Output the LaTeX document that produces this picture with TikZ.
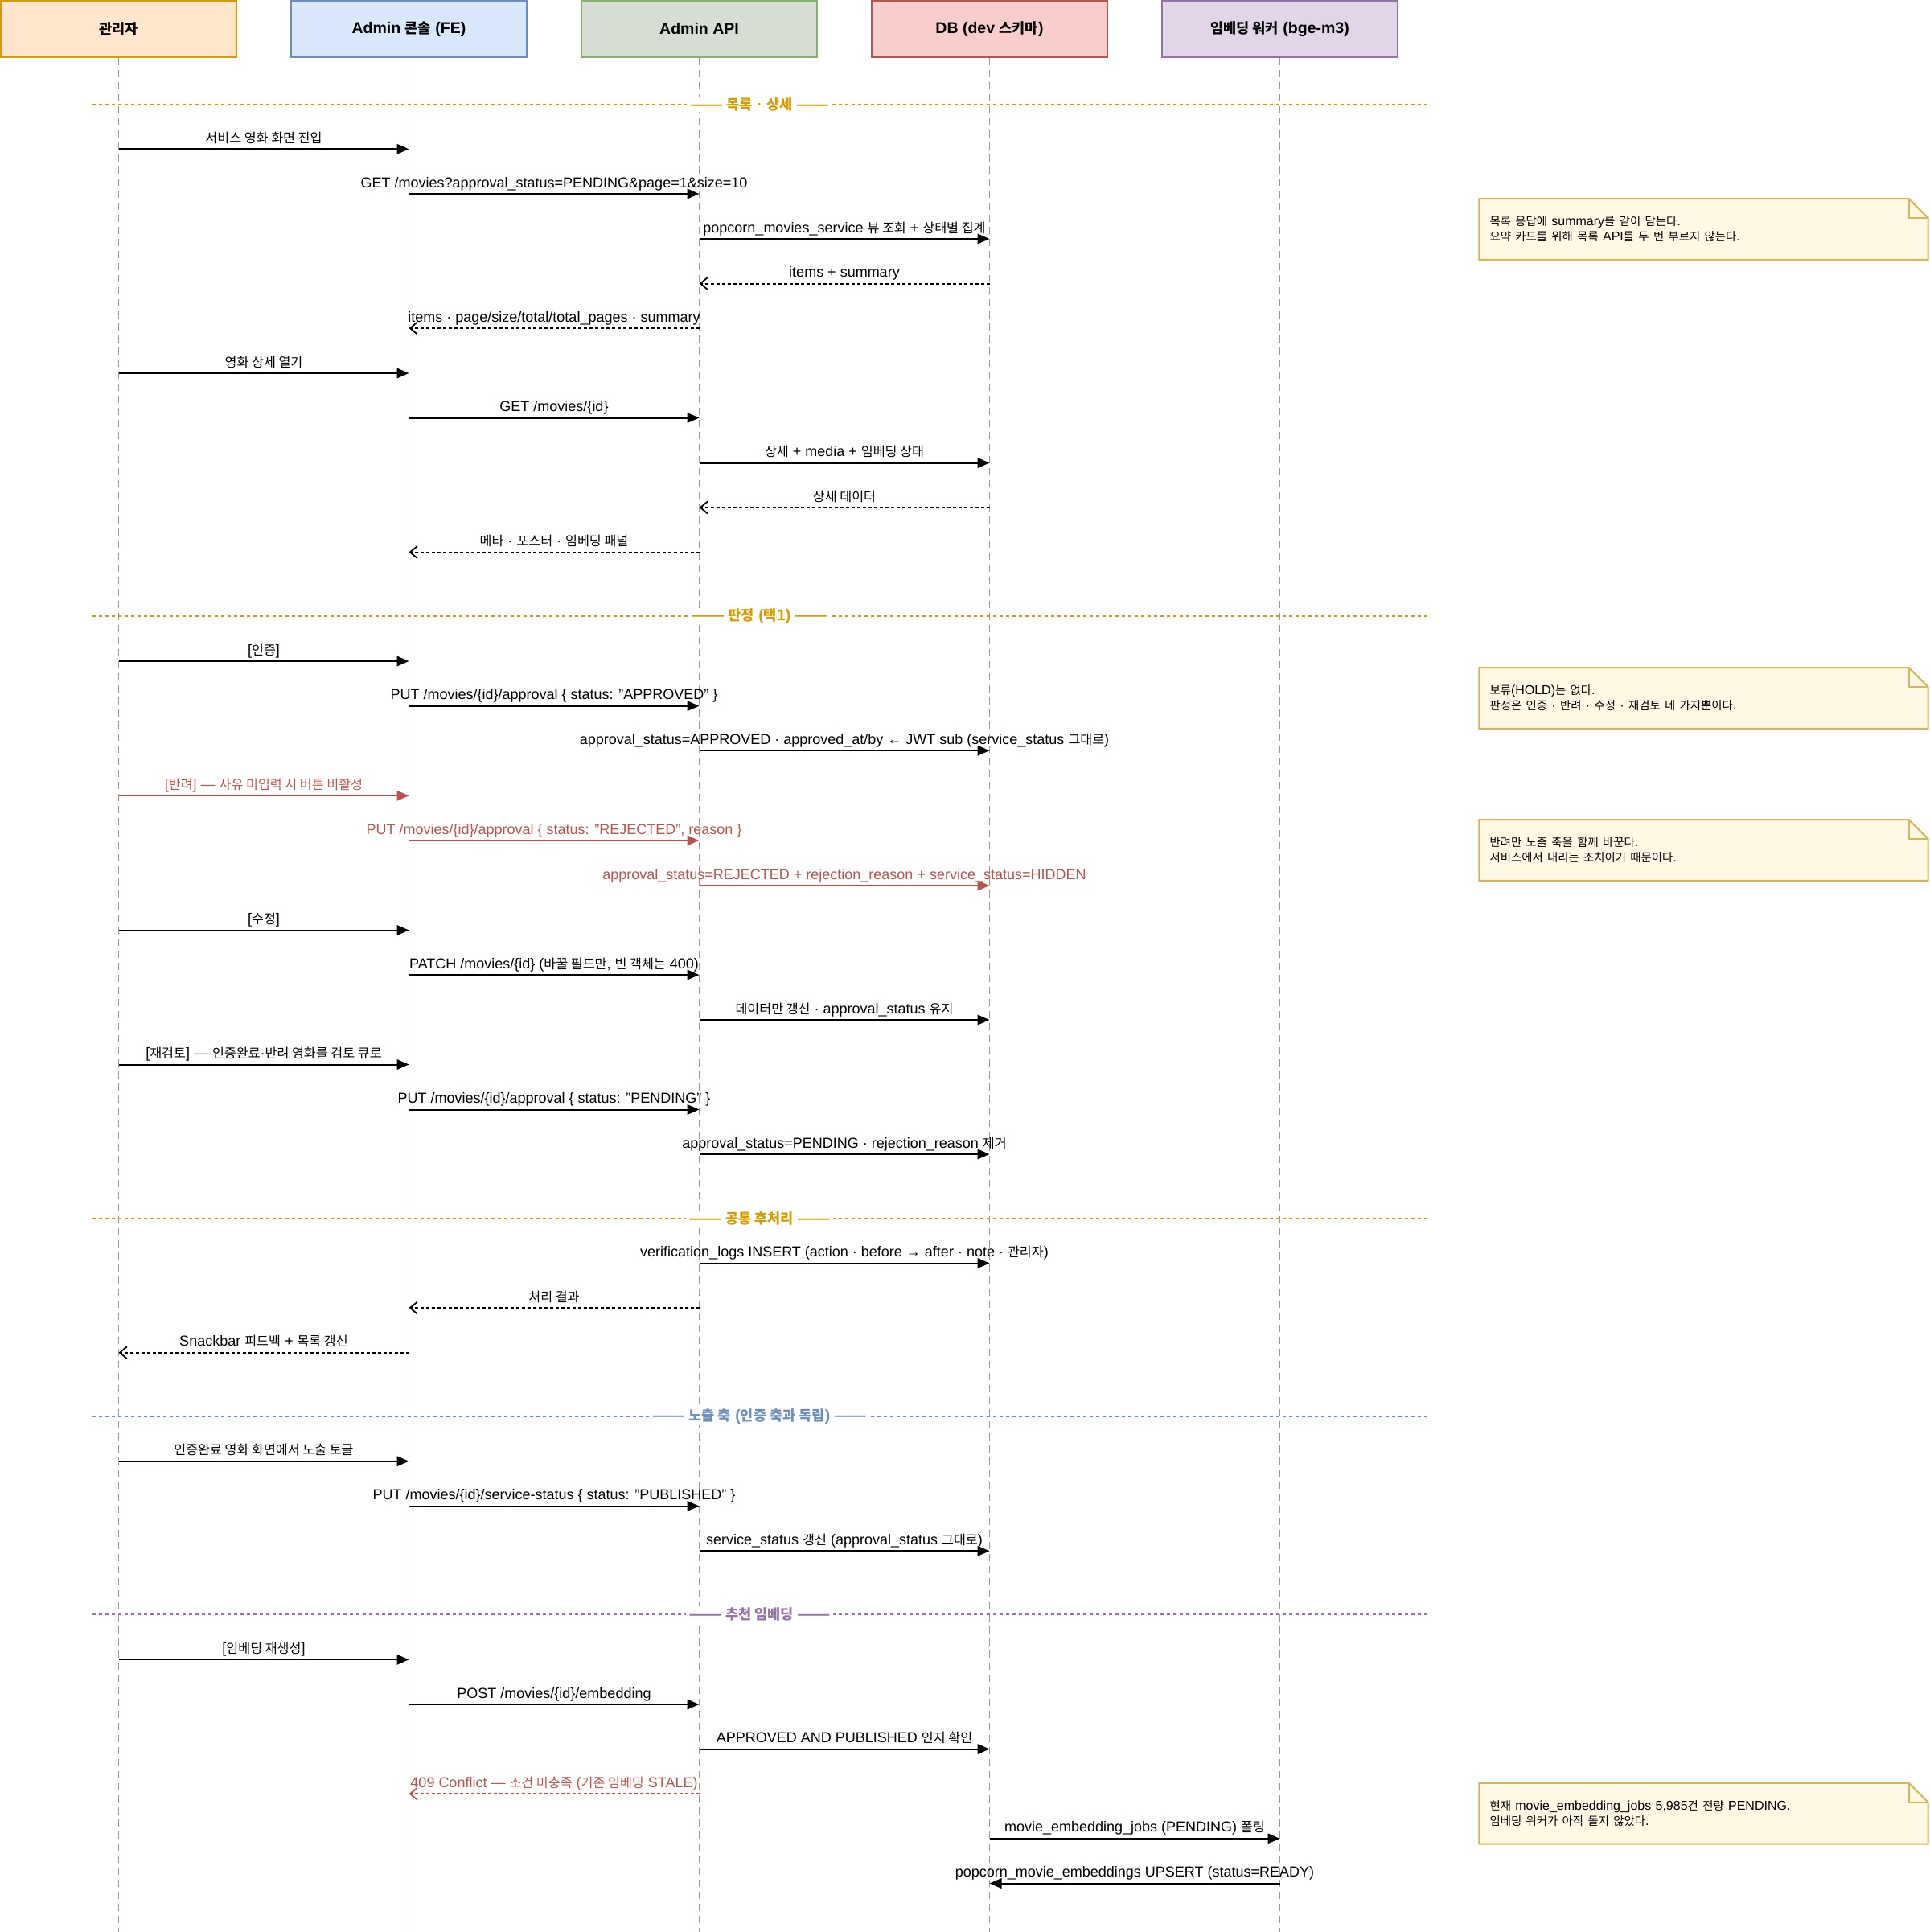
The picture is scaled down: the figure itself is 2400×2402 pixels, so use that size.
\documentclass[tikz,border=0pt]{standalone}
\usepackage{fontspec}
\setmainfont{Liberation Sans}
\newfontfamily\krfont{Noto Sans CJK KR}[Scale=0.9]
\newcommand\K[1]{{\krfont #1}}
\usetikzlibrary{arrows.meta,calc}

\definecolor{orgF}{HTML}{FFE6CC}\definecolor{orgS}{HTML}{D79B00}
\definecolor{bluF}{HTML}{DAE8FC}\definecolor{bluS}{HTML}{6C8EBF}
\definecolor{grnF}{HTML}{D6DED3}\definecolor{grnS}{HTML}{82B366}
\definecolor{redF}{HTML}{F8CECC}\definecolor{redS}{HTML}{B85450}
\definecolor{purF}{HTML}{E1D5E7}\definecolor{purS}{HTML}{9673A6}
\definecolor{noteF}{HTML}{FFF8E5}\definecolor{noteS}{HTML}{D6B656}
\definecolor{lifeC}{HTML}{999999}

\pgfdeclarelayer{bg}
\pgfsetlayers{bg,main}

\tikzset{
  hdr/.style={draw, line width=2pt, minimum width=293pt, minimum height=70pt, inner sep=0pt,
    font=\fontsize{19.5}{23}\selectfont\bfseries},
  life/.style={draw=lifeC, line width=1.3pt, dash pattern=on 9pt off 6pt},
  msgarr/.style={line width=2pt, -{Triangle[length=15pt,width=12.5pt]}},
  msgred/.style={msgarr, draw=redS, text=redS},
  retarr/.style={line width=2pt, dash pattern=on 4pt off 3pt,
    -{Straight Barb[length=9pt,width=15pt,line width=1.8pt]}},
  retred/.style={retarr, draw=redS, text=redS},
  lbl/.style={anchor=base, yshift=8pt, inner sep=0pt, font=\fontsize{18}{21.6}\selectfont},
  secline/.style={line width=2pt, dash pattern=on 4pt off 4pt},
  seclbl/.style={fill=white, inner xsep=5pt, inner ysep=1pt, font=\fontsize{19.5}{23}\selectfont\bfseries},
  notebox/.style={minimum width=558pt, minimum height=75.4pt, text width=532pt, align=left,
    inner xsep=13pt, inner ysep=0pt, font=\fontsize{16}{19}\selectfont},
  notebd/.style={draw=noteS, line width=2pt, fill=noteF, line join=miter},
  foldln/.style={draw=noteS, line width=2pt},
}

\newcommand\Msg[5][msgarr]{\draw[#1] (#2.center |- 0,#4) -- node[lbl]{#5} (#3.center |- 0,#4);}
\newcommand\Sec[4]{\draw[secline, draw=#2] (115,#1) -- (1774,#1) node[seclbl, text=#2, pos=0.5] (#3) {—— #4 ——};}
\newcommand\NoteOutline[1]{%
  \begin{pgfonlayer}{bg}
  \draw[notebd] (#1.north west) -- ($(#1.north east)+(-24,0)$) -- ($(#1.north east)+(0,24)$)
     -- (#1.south east) -- (#1.south west) -- cycle;
  \draw[foldln] ($(#1.north east)+(-24,0)$) -- ($(#1.north east)+(-24,24)$) -- ($(#1.north east)+(0,24)$);
  \end{pgfonlayer}}

\begin{document}
\begin{tikzpicture}[x=1pt,y=-1pt]
\useasboundingbox (0,0) rectangle (2400,2402);

% headers
\node[hdr, fill=orgF, draw=orgS] (h1) at (147.5,35.85) {\K{관리자}};
\node[hdr, fill=bluF, draw=bluS] (h2) at (508.5,35.85) {Admin \K{콘솔} (FE)};
\node[hdr, fill=grnF, draw=grnS] (h3) at (869.5,35.85) {Admin API};
\node[hdr, fill=redF, draw=redS] (h4) at (1230.5,35.85) {DB (dev \K{스키마})};
\node[hdr, fill=purF, draw=purS] (h5) at (1591.5,35.85) {\K{임베딩 워커} (bge-m3)};

% lifelines
\foreach \h in {h1,h2,h3,h4,h5}{\draw[life] (\h.south) -- (\h.south |- 0,2402);}

% sections
\Sec{130}{orgS}{s1}{\K{목록} · \K{상세}}
\Sec{766}{orgS}{s2}{\K{판정} (\K{택}1)}
\Sec{1514.6}{orgS}{s3}{\K{공통 후처리}}
\Sec{1761.2}{bluS}{s4}{\K{노출 축} (\K{인증 축과 독립})}
\Sec{2006.5}{purS}{s5}{\K{추천 임베딩}}

% messages
\Msg{h1}{h2}{185.3}{\K{서비스 영화 화면 진입}}
\Msg{h2}{h3}{241}{GET /movies?approval\_status=PENDING\&page=1\&size=10}
\Msg{h3}{h4}{297}{popcorn\_movies\_service \K{뷰 조회} + \K{상태별 집계}}
\Msg[retarr]{h4}{h3}{352.5}{items + summary}
\Msg[retarr]{h3}{h2}{408}{items · page/size/total/total\_pages · summary}
\Msg{h1}{h2}{464}{\K{영화 상세 열기}}
\Msg{h2}{h3}{519.5}{GET /movies/\{id\}}
\Msg{h3}{h4}{575.5}{\K{상세} + media + \K{임베딩 상태}}
\Msg[retarr]{h4}{h3}{631}{\K{상세 데이터}}
\Msg[retarr]{h3}{h2}{686.5}{\K{메타} · \K{포스터} · \K{임베딩 패널}}

\Msg{h1}{h2}{822}{[\K{인증}]}
\Msg{h2}{h3}{877.7}{PUT /movies/\{id\}/approval \{ status: "APPROVED" \}}
\Msg{h3}{h4}{933.2}{approval\_status=APPROVED · approved\_at/by ← JWT sub (service\_status \K{그대로})}
\Msg[msgred]{h1}{h2}{989.3}{[\K{반려}] — \K{사유 미입력 시 버튼 비활성}}
\Msg[msgred]{h2}{h3}{1045}{PUT /movies/\{id\}/approval \{ status: "REJECTED", reason \}}
\Msg[msgred]{h3}{h4}{1101}{approval\_status=REJECTED + rejection\_reason + service\_status=HIDDEN}
\Msg{h1}{h2}{1156.5}{[\K{수정}]}
\Msg{h2}{h3}{1212}{PATCH /movies/\{id\} (\K{바꿀 필드만}, \K{빈 객체는} 400)}
\Msg{h3}{h4}{1268}{\K{데이터만 갱신} · approval\_status \K{유지}}
\Msg{h1}{h2}{1323.5}{[\K{재검토}] — \K{인증완료}·\K{반려 영화를 검토 큐로}}
\Msg{h2}{h3}{1379.5}{PUT /movies/\{id\}/approval \{ status: "PENDING" \}}
\Msg{h3}{h4}{1435}{approval\_status=PENDING · rejection\_reason \K{제거}}

\Msg{h3}{h4}{1570.5}{verification\_logs INSERT (action · before → after · note · \K{관리자})}
\Msg[retarr]{h3}{h2}{1626}{\K{처리 결과}}
\Msg[retarr]{h2}{h1}{1681.7}{Snackbar \K{피드백} + \K{목록 갱신}}

\Msg{h1}{h2}{1816.7}{\K{인증완료 영화 화면에서 노출 토글}}
\Msg{h2}{h3}{1872.5}{PUT /movies/\{id\}/service-status \{ status: "PUBLISHED" \}}
\Msg{h3}{h4}{1928.3}{service\_status \K{갱신} (approval\_status \K{그대로})}

\Msg{h1}{h2}{2063.3}{[\K{임베딩 재생성}]}
\Msg{h2}{h3}{2119}{POST /movies/\{id\}/embedding}
\Msg{h3}{h4}{2174.5}{APPROVED AND PUBLISHED \K{인지 확인}}
\Msg[retred]{h3}{h2}{2230.2}{409 Conflict — \K{조건 미충족} (\K{기존 임베딩} STALE)}
\Msg{h4}{h5}{2285.8}{movie\_embedding\_jobs (PENDING) \K{폴링}}
\Msg{h5}{h4}{2341.5}{popcorn\_movie\_embeddings UPSERT (status=READY)}

% notes
\node[notebox] (n1) at (2118.5,285) {\K{목록 응답에} summary\K{를 같이 담는다}.\\\K{요약 카드를 위해 목록} API\K{를 두 번 부르지 않는다}.};
\NoteOutline{n1}
\node[notebox] (n2) at (2118.5,868) {\K{보류}(HOLD)\K{는 없다}.\\\K{판정은 인증} · \K{반려} · \K{수정} · \K{재검토 네 가지뿐이다}.};
\NoteOutline{n2}
\node[notebox] (n3) at (2118.5,1057) {\K{반려만 노출 축을 함께 바꾼다}.\\\K{서비스에서 내리는 조치이기 때문이다}.};
\NoteOutline{n3}
\node[notebox] (n4) at (2118.5,2254.7) {\K{현재} movie\_embedding\_jobs 5,985\K{건 전량} PENDING.\\\K{임베딩 워커가 아직 돌지 않았다}.};
\NoteOutline{n4}
\end{tikzpicture}
\end{document}
